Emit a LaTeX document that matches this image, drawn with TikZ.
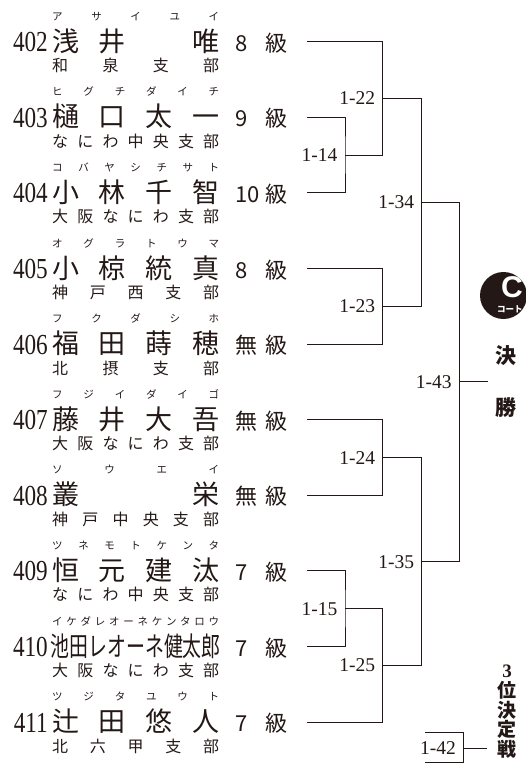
\documentclass[tikz,border=0pt]{standalone}
\usepackage{fontspec}
\usepackage{graphicx}
\setmainfont{Liberation Serif}
\setsansfont{Liberation Sans}
\newfontfamily\jfont{Noto Sans CJK JP}
\newfontfamily\numfont[FakeStretch=0.8]{Liberation Serif}
\definecolor{ink}{HTML}{231815}
\tikzset{
  num/.style={font=\numfont\fontsize{29}{29}\selectfont, anchor=base east},
  jname/.style={font=\jfont\fontsize{27}{27}\selectfont, anchor=base west},
  kana/.style={font=\jfont\fontsize{10.5}{11}\selectfont, anchor=base west},
  shibu/.style={font=\jfont\fontsize{16}{16}\selectfont, anchor=base west},
  kyu/.style={font=\jfont\fontsize{22}{22}\selectfont, anchor=base west},
  matchlab/.style={font=\fontsize{19.5}{20}\selectfont, anchor=east, text height=13pt, text depth=0pt},
  bracketline/.style={draw=ink, line width=1pt},
  sidelab/.style={font=\jfont\bfseries\fontsize{21}{21}\selectfont},
}
\newcommand*{\spread}[1]{\makebox[167pt]{\foreach \c [count=\k] in #1 {\ifnum\k>1 \hfill\fi\c}}}
\newcommand*{\emptyslot}{\phantom{口}}
\newcommand*{\longname}{\scalebox{0.7}[1]{池田レオーネ健太郎}}

\begin{document}
\begin{tikzpicture}[x=1pt,y=-1pt,every node/.style={inner sep=0pt,text=ink}]
\useasboundingbox (0,0) rectangle (526,764);
\clip (0,0) rectangle (526,764);
% players
\foreach \num/\kn/\nm/\br/\gr [count=\i from 0] in {
  402/{ア,サ,イ,ユ,イ}/{浅,井,\emptyslot,唯}/{和,泉,支,部}/8,
  403/{ヒ,グ,チ,ダ,イ,チ}/{樋,口,太,一}/{な,に,わ,中,央,支,部}/9,
  404/{コ,バ,ヤ,シ,チ,サ,ト}/{小,林,千,智}/{大,阪,な,に,わ,支,部}/10,
  405/{オ,グ,ラ,ト,ウ,マ}/{小,椋,統,真}/{神,戸,西,支,部}/8,
  406/{フ,ク,ダ,シ,ホ}/{福,田,蒔,穂}/{北,摂,支,部}/無,
  407/{フ,ジ,イ,ダ,イ,ゴ}/{藤,井,大,吾}/{大,阪,な,に,わ,支,部}/無,
  408/{ソ,ウ,エ,イ}/{叢,栄}/{神,戸,中,央,支,部}/無,
  409/{ツ,ネ,モ,ト,ケ,ン,タ}/{恒,元,建,汰}/{な,に,わ,中,央,支,部}/7,
  410/{イ,ケ,ダ,レ,オ,ー,ネ,ケ,ン,タ,ロ,ウ}/{\longname}/{大,阪,な,に,わ,支,部}/7,
  411/{ツ,ジ,タ,ユ,ウ,ト}/{辻,田,悠,人}/{北,六,甲,支,部}/7}
{
  \pgfmathsetmacro\y{41.7+75.6*\i}
  \node[num] (n\num) at (48,\y+10) {\num};
  \node[kana] (k\num) at (52,\y-21.4) {\spread{\kn}};
  \node[jname] (nm\num) at (52,\y+9.5) {\spread{\nm}};
  \node[shibu] (b\num) at (52,\y+30) {\spread{\br}};
  \node[kyu] (g\num) at (235.5,\y+9.5) {\makebox[52pt]{\gr\hfill 級}};
  \coordinate (p\num) at (307,\y);
}
% matches
\coordinate (m14) at (345,155.1);
\coordinate (m15) at (345,608.7);
\coordinate (m22) at (382.7,98.4);
\coordinate (m23) at (382.7,306.3);
\coordinate (m24) at (382.7,457.5);
\coordinate (m25) at (382.7,665.4);
\coordinate (m34) at (421.7,202.4);
\coordinate (m35) at (421.7,561.5);
\coordinate (m43) at (459.3,381.9);
\coordinate (fin) at (488.3,381.9);
\draw[bracketline] (p403) -| (m14) |- (p404);
\draw[bracketline] (p402) -| (m22) |- (m14);
\draw[bracketline] (p405) -| (m23) |- (p406);
\draw[bracketline] (m22) -| (m34) |- (m23);
\draw[bracketline] (p407) -| (m24) |- (p408);
\draw[bracketline] (p409) -| (m15) |- (p410);
\draw[bracketline] (m15) -| (m25) |- (p411);
\draw[bracketline] (m24) -| (m35) |- (m25);
\draw[bracketline] (m34) -| (m43) |- (m35);
\draw[bracketline] (m43) -- (fin);
\foreach \m in {14,15,22,23,24,25,34,35,43}
  \node[matchlab] (l\m) at ([xshift=-7.5pt]m\m) {1-\m};
% 3rd place
\coordinate (q42a) at (425,732.3);
\coordinate (q42b) at (463.3,762.7);
\coordinate (q42c) at (425,762.7);
\coordinate (m42) at (463.3,748);
\coordinate (t42) at (486.7,748);
\draw[bracketline] (q42a) -| (q42b) -- (q42c);
\draw[bracketline] (m42) -- (t42);
\node[matchlab] (l42) at (456,748) {1-42};
% court badge
\fill[ink] (503.5,295.5) circle (23.5);
\node[text=white,font=\sffamily\bfseries\fontsize{30}{30}\selectfont,anchor=base,text height=21.5pt,text depth=0pt] (cc) at (512,297) {C};
\node[text=white,font=\jfont\bfseries\fontsize{8.5}{9}\selectfont,anchor=base west,text height=7pt,text depth=0pt] (ct) at (497,312) {コート};
\node[sidelab] (ke) at (506,356) {決};
\node[sidelab] (sho) at (506,408) {勝};
\foreach \c [count=\k from 0] in {{\rmfamily 3},位,決,定,戦}
  \node[sidelab,font=\jfont\bfseries\fontsize{19}{19}\selectfont] (t\k) at (507,671+19.5*\k) {\c};
\end{tikzpicture}
\end{document}
